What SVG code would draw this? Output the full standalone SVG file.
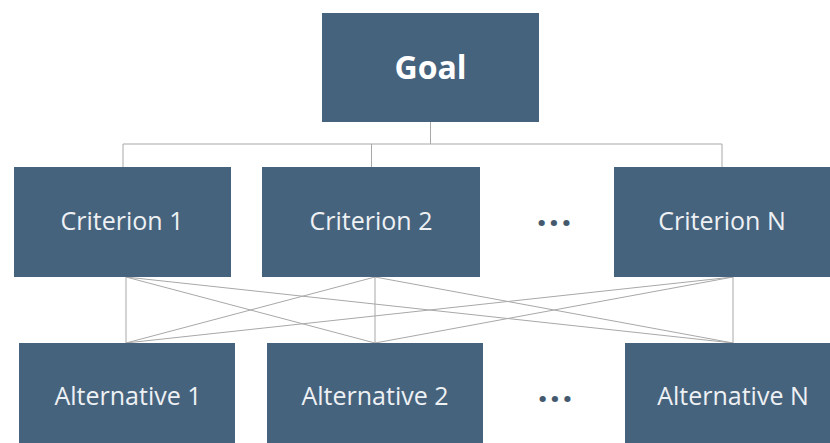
<svg xmlns="http://www.w3.org/2000/svg" width="830" height="443" viewBox="0 0 830 443">
<style>
.box{fill:#46637d}
.lbl{font-family:"Open Sans","Noto Sans",sans-serif;font-size:25px;fill:#eef1f4;text-anchor:middle}
.goal{font-family:"Open Sans","Noto Sans",sans-serif;font-size:32px;font-weight:bold;fill:#ffffff;text-anchor:middle}
.dots{font-family:"Open Sans","Noto Sans",sans-serif;font-size:36px;font-weight:bold;fill:#44596e;text-anchor:middle;letter-spacing:2px}
.con{stroke:#a8a8a8;stroke-width:1;fill:none}
</style>
<rect width="830" height="443" fill="#ffffff"/>
<g id="connectors" class="con">
<path d="M430.5,122 V144 M123,144 H722 M123,144 V167 M371.5,144 V167 M722,144 V167"/>
<path d="M126,277 L126,343 M126,277 L375,343 M126,277 L733,343"/>
<path d="M375,277 L126,343 M375,277 L375,343 M375,277 L733,343"/>
<path d="M733,277 L126,343 M733,277 L375,343 M733,277 L733,343"/>
</g>
<g id="goal"><rect class="box" x="322" y="13" width="217" height="109"/><text class="goal" x="430.5" y="79">Goal</text></g>
<g id="criterion1"><rect class="box" x="14" y="167" width="217" height="110"/><text class="lbl" x="122" y="230">Criterion 1</text></g>
<g id="criterion2"><rect class="box" x="262" y="167" width="218" height="110"/><text class="lbl" x="371" y="230">Criterion 2</text></g>
<g id="criterion-dots"><text class="dots" x="555" y="236">···</text></g>
<g id="criterionN"><rect class="box" x="614" y="167" width="217" height="110"/><text class="lbl" x="722" y="230">Criterion N</text></g>
<g id="alternative1"><rect class="box" x="19" y="343" width="216" height="110"/><text class="lbl" x="128" y="405">Alternative 1</text></g>
<g id="alternative2"><rect class="box" x="267" y="343" width="216" height="110"/><text class="lbl" x="375" y="405">Alternative 2</text></g>
<g id="alternative-dots"><text class="dots" x="556" y="412">···</text></g>
<g id="alternativeN"><rect class="box" x="625" y="343" width="216" height="110"/><text class="lbl" x="733" y="405">Alternative N</text></g>
</svg>
